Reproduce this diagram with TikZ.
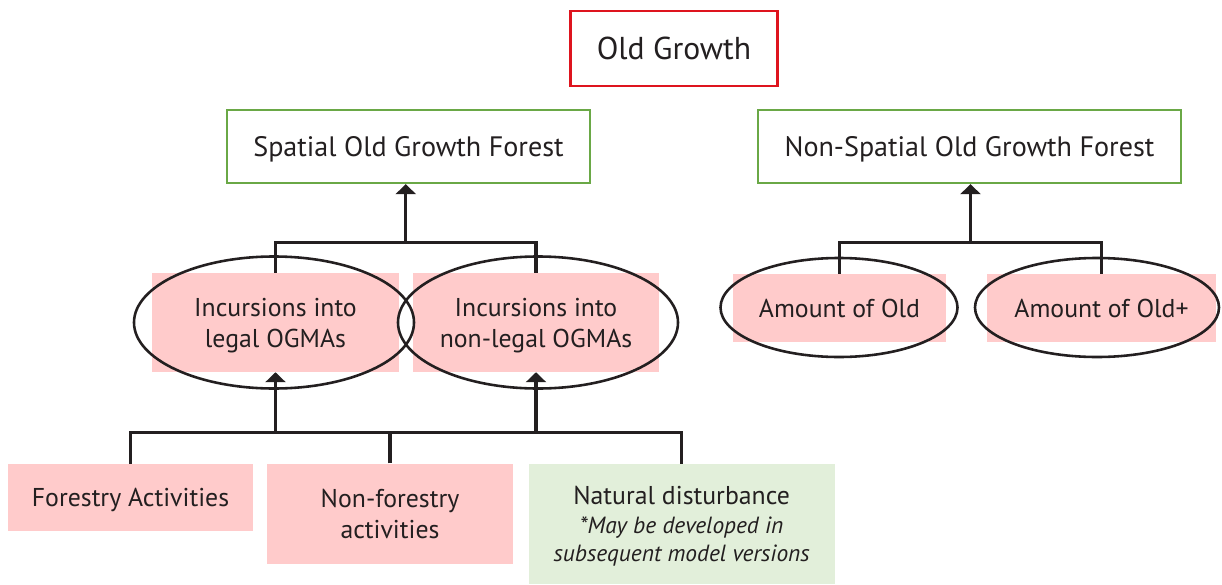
\documentclass[tikz,border=0pt]{standalone}
\usepackage{fontspec}
\setmainfont{PT Sans}
\usetikzlibrary{shapes.geometric, arrows.meta, positioning, calc}
\definecolor{pinkfill}{RGB}{255,203,203}
\definecolor{greenfill}{RGB}{226,239,218}
\definecolor{ogred}{RGB}{222,20,30}
\definecolor{oggreen}{RGB}{106,168,70}
\definecolor{linecol}{RGB}{35,31,32}
\newcommand\notefont{\itshape\fontsize{20}{23}\selectfont}
\tikzset{
  root/.style = {rectangle, draw=ogred, line width=2.2pt, minimum height=2.25cm, minimum width=6.21cm, text=linecol, font=\fontsize{27}{32}\selectfont},
  branch/.style = {rectangle, draw=oggreen, line width=2pt, minimum height=2.19cm, text depth=0pt, text=linecol, font=\fontsize{24}{29}\selectfont},
  cause/.style = {rectangle, fill=pinkfill, align=center, inner sep=0pt, text depth=0pt, text=linecol, font=\fontsize{22}{26.5}\selectfont},
  future/.style = {rectangle, fill=greenfill, align=center, inner sep=0pt, text depth=0pt, text=linecol, font=\fontsize{22}{26.5}\selectfont},
  ring/.style = {ellipse, draw=linecol, line width=2.2pt, inner sep=0pt},
  link/.style = {draw=linecol, line width=2.6pt},
  arrow/.style = {link, -{Triangle[length=3mm, width=6mm]}}
}

\begin{document}
\begin{tikzpicture}[x=0.03cm, y=-0.03cm]
    \useasboundingbox (0,0) rectangle (1222,585);

    % Top: the whole topic
    \node[root] (oldgrowth) at (674,48.5) {Old Growth};

    % Second row: the two forest groups
    \node[branch, minimum width=10.89cm] (spatial) at (408.5,146.5) {Spatial Old Growth Forest};
    \node[branch, minimum width=12.69cm] (nonspatial) at (969.5,146.5) {Non-Spatial Old Growth Forest};

    % Third row: pink boxes, then the ellipses on top
    \node[cause, minimum width=7.38cm, minimum height=2.97cm] (legal) at (275.5,322.5) {Incursions into\\legal OGMAs};
    \node[cause, minimum width=7.38cm, minimum height=2.97cm] (nonlegal) at (536,322.5) {Incursions into\\non-legal OGMAs};
    \node[cause, minimum width=6.39cm, minimum height=2.04cm] (old) at (839.5,308) {Amount of Old};
    \node[cause, minimum width=6.87cm, minimum height=2.04cm] (oldplus) at (1101.5,308) {Amount of Old+};
    \node[ring, minimum width=8.4cm, minimum height=3.96cm] (legalring) at (274,322.5) {};
    \node[ring, minimum width=8.4cm, minimum height=3.96cm] (nonlegalring) at (538,322.5) {};
    \node[ring, minimum width=7.11cm, minimum height=2.97cm] (oldring) at (839,307.5) {};
    \node[ring, minimum width=7.32cm, minimum height=2.97cm] (oldplusring) at (1097,307.5) {};

    % Bottom row: the drivers
    \node[cause, minimum width=7.35cm, minimum height=2.01cm] (forestry) at (130.5,497.5) {Forestry Activities};
    \node[cause, minimum width=7.35cm, minimum height=3cm] (nonforestry) at (390,513.7) {Non-forestry\\activities};
    \node[future, minimum width=9.18cm, minimum height=3.6cm] (natural) at (681.6,524)
      {Natural disturbance\\[-2pt]\notefont *May be developed in\\[-2pt]\notefont subsequent model versions};

    % Brackets up to the forest groups
    \draw[link] (legal.north) -- ++(0,-30) -| (nonlegal.north);
    \coordinate (spjoin) at ($(legal.north)!0.5!(nonlegal.north) + (0,-30)$);
    \draw[arrow] (spjoin) -- (spatial.south -| spjoin);

    \draw[link] (old.north) -- ++(0,-31) -| (oldplus.north);
    \coordinate (nsjoin) at ($(old.north)!0.5!(oldplus.north) + (0,-31)$);
    \draw[arrow] (nsjoin) -- (nonspatial.south -| nsjoin);

    % Bracket up from the drivers
    \draw[link] (forestry.north) -- ++(0,-31) coordinate (lowbar) -| (natural.north);
    \draw[link] (nonforestry.north) -- (nonforestry.north |- lowbar);
    \draw[arrow] (legal.south |- lowbar) -- (legal.south);
    \draw[arrow] (nonlegal.south |- lowbar) -- (nonlegal.south);

\end{tikzpicture}
\end{document}
